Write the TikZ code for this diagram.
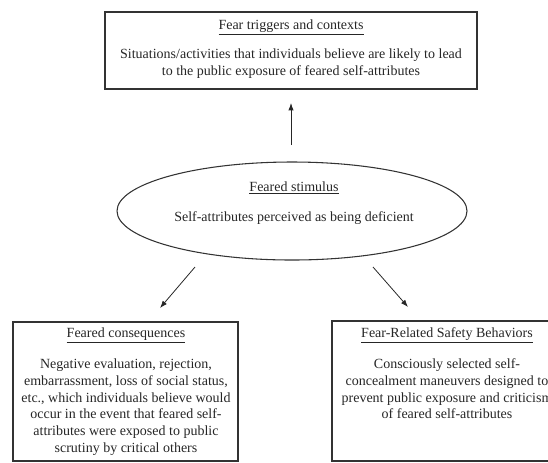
\documentclass[tikz,border=0pt]{standalone}
\usepackage{fontspec}
\setmainfont{Liberation Serif}
\usetikzlibrary{arrows.meta,shapes.geometric}
\begin{document}
\begin{tikzpicture}[x=0.75pt,y=-0.75pt,
  box/.style={draw=black!80,line width=0.9pt,rectangle,inner sep=0pt},
  oval/.style={draw=black!80,line width=0.8pt,ellipse,inner sep=0pt},
  ttl/.style={font=\fontsize{10.5}{13}\selectfont,text=black!85,inner sep=0pt},
  body/.style={font=\fontsize{10.5}{12.5}\selectfont,text=black!85,align=center,inner sep=0pt},
  arr/.style={draw=black!85,line width=0.6pt,-{Latex[length=5.5pt,width=4pt]}}]
\useasboundingbox (0,0) rectangle (548,462);
\clip (0,0) rectangle (548,462);
% boxes
\node[box,minimum width=279pt,minimum height=57.75pt] (trig) at (291,50.5) {};
\node[oval,minimum width=262.5pt,minimum height=73.5pt] (stim) at (292,211) {};
\node[box,minimum width=168.75pt,minimum height=104.25pt] (cons) at (125.5,391.5) {};
\node[box,minimum width=172.5pt,minimum height=105pt] (safe) at (447,391) {};
% texts
\node[ttl] (trigT) at (291,27) {\underline{Fear triggers and contexts}};
\node[body] (trigB) at (291,63.5) {Situations/activities that individuals believe are likely to lead\\to the public exposure of feared self-attributes};
\node[ttl] (stimT) at (294,188) {\underline{Feared stimulus}};
\node[body] (stimB) at (294,218) {Self-attributes perceived as being deficient};
\node[ttl] (consT) at (126,335) {\underline{Feared consequences}};
\node[body] (consB) at (126,407) {Negative evaluation, rejection,\\embarrassment, loss of social status,\\etc., which individuals believe would\\occur in the event that feared self-\\attributes were exposed to public\\scrutiny by critical others};
\node[ttl] (safeT) at (447,335) {\underline{Fear-Related Safety Behaviors}};
\node[body] (safeB) at (447,389) {Consciously selected self-\\concealment maneuvers designed to\\prevent public exposure and criticism\\of feared self-attributes};
% arrow end points
\coordinate (a1) at (291,145);
\coordinate (b1) at (291,103);
\coordinate (a2) at (195,267);
\coordinate (b2) at (160,308);
\coordinate (a3) at (373,267);
\coordinate (b3) at (408,307);
\draw[arr] (a1) -- (b1);
\draw[arr] (a2) -- (b2);
\draw[arr] (a3) -- (b3);
\end{tikzpicture}
\end{document}
